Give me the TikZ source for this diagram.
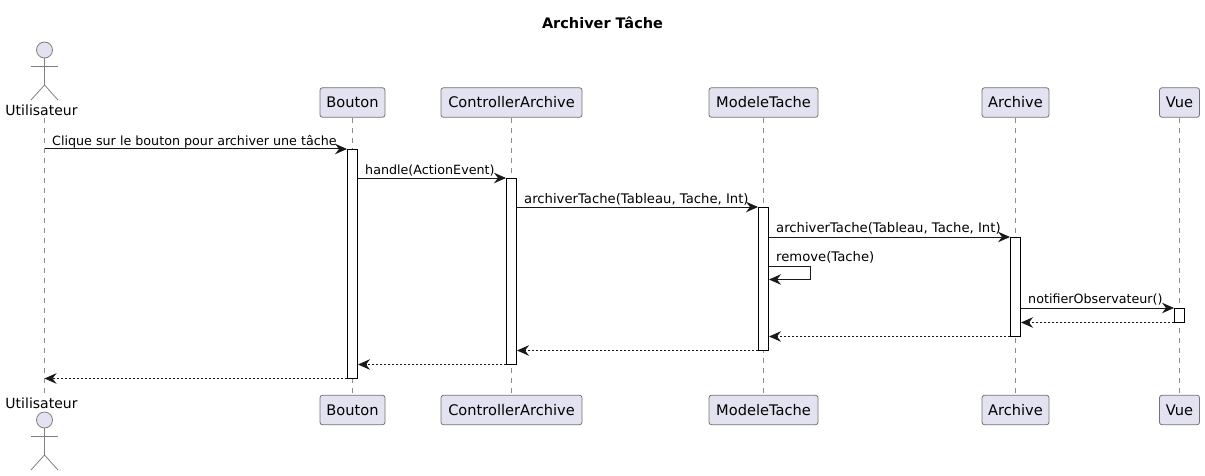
\documentclass[tikz,border=0pt]{standalone}
\usepackage{fontspec}
\setmainfont{DejaVu Sans}
\usetikzlibrary{arrows.meta, positioning, calc}

\tikzset{
    headbox/.style={draw=black!55, fill=headfill, rounded corners=2.5pt, line width=0.8pt, minimum height=29.5pt, inner sep=0pt, font=\fontsize{14.6}{16}\selectfont},
    actorname/.style={inner sep=0pt, font=\fontsize{14}{16}\selectfont},
    actorline/.style={draw=black!50, line width=0.8pt},
    lifeline/.style={draw=black!45, line width=0.8pt, dash pattern=on 5pt off 5pt},
    actbar/.style={draw=black, fill=white, line width=1pt, minimum width=10pt, inner sep=0pt},
    msg/.style={draw=black!90, line width=1pt, -{Stealth[length=12pt, width=10.5pt, inset=4pt]}},
    backmsg/.style={msg, dash pattern=on 2pt off 2pt},
    msglabel/.style={anchor=base west, inner sep=0pt, font=\fontsize{12.7}{15}\selectfont},
    widelabel/.style={msglabel, font=\fontsize{13.2}{15}\selectfont},
}
\definecolor{headfill}{HTML}{E2E2F0}

\begin{document}
\begin{tikzpicture}[x=1pt, y=-1pt]
    \useasboundingbox (0,0) rectangle (1205,476);
    \node[inner sep=0pt, font=\bfseries\fontsize{14.5}{16}\selectfont] (title) at (602.5,22.5) {Archiver Tâche};

    % participants, top and bottom
    \foreach \name/\txt/\xpos/\wid in {bouton/Bouton/352.5/65, ctrl/ControllerArchive/511.5/141, modele/ModeleTache/763.5/109, archive/Archive/1015.5/67, vue/Vue/1179.5/40} {
        \node[headbox, minimum width=\wid pt] (\name Top) at (\xpos,102.5) {\txt};
        \node[headbox, minimum width=\wid pt] (\name Bot) at (\xpos,410) {\txt};
        \draw[lifeline] (\name Top.south) -- (\name Bot.north);
    }

    % the actor, top and bottom
    \node[actorname] (userTop) at (41.5,110) {Utilisateur};
    \node[actorname] (userBot) at (41.5,403) {Utilisateur};
    \coordinate (lifeTop) at (44.5,118);
    \coordinate (lifeBot) at (44.5,394);
    \draw[lifeline] (lifeTop) -- (lifeBot);
    \foreach \ypos in {50,420} {
        \draw[actorline, fill=headfill] (44.5,\ypos) circle (8);
        \draw[actorline] (44.5,\ypos+8) -- (44.5,\ypos+35);
        \draw[actorline] (31,\ypos+16) -- (58,\ypos+16);
        \draw[actorline] (31,\ypos+50) -- (44.5,\ypos+35) -- (58,\ypos+50);
    }

    % activation bars
    \node[actbar, minimum height=228.5pt] (actBouton) at (352.5,263.75) {};
    \node[actbar, minimum height=185.5pt] (actCtrl) at (511.5,271.25) {};
    \node[actbar, minimum height=142.5pt] (actModele) at (763.5,278.75) {};
    \node[actbar, minimum height=98.5pt] (actArchive) at (1015.5,286.75) {};
    \node[actbar, minimum height=13.5pt] (actVue) at (1179.5,315.25) {};

    % message rows
    \coordinate (selfOut) at (810.5,266.5);
    \coordinate (selfBack) at (810.5,279.5);
    \draw[msg] (lifeTop |- actBouton.north) -- (actBouton.north west);
    \draw[msg] (actBouton.east |- actCtrl.north) -- (actCtrl.north west);
    \draw[msg] (actCtrl.east |- actModele.north) -- (actModele.north west);
    \draw[msg] (actModele.east |- actArchive.north) -- (actArchive.north west);
    \draw[msg] (actModele.east |- selfOut) -- (selfOut) -- (selfBack) -- (actModele.east |- selfBack);
    \draw[msg] (actArchive.east |- actVue.north) -- (actVue.north west);
    \draw[backmsg] (actVue.south west) -- (actArchive.east |- actVue.south);
    \draw[backmsg] (actArchive.south west) -- (actModele.east |- actArchive.south);
    \draw[backmsg] (actModele.south west) -- (actCtrl.east |- actModele.south);
    \draw[backmsg] (actCtrl.south west) -- (actBouton.east |- actCtrl.south);
    \draw[backmsg] (actBouton.south west) -- (lifeTop |- actBouton.south);

    % message labels
    \node[msglabel] (msgClique) at (52,145.5) {Clique sur le bouton pour archiver une tâche};
    \node[msglabel] (msgHandle) at (365,174.5) {handle(ActionEvent)};
    \node[widelabel] (msgArchA) at (524,203.5) {archiverTache(Tableau, Tache, Int)};
    \node[widelabel] (msgArchB) at (776,232.5) {archiverTache(Tableau, Tache, Int)};
    \node[widelabel] (msgRemove) at (776,261.5) {remove(Tache)};
    \node[msglabel] (msgNotif) at (1028,303.5) {notifierObservateur()};
\end{tikzpicture}
\end{document}
